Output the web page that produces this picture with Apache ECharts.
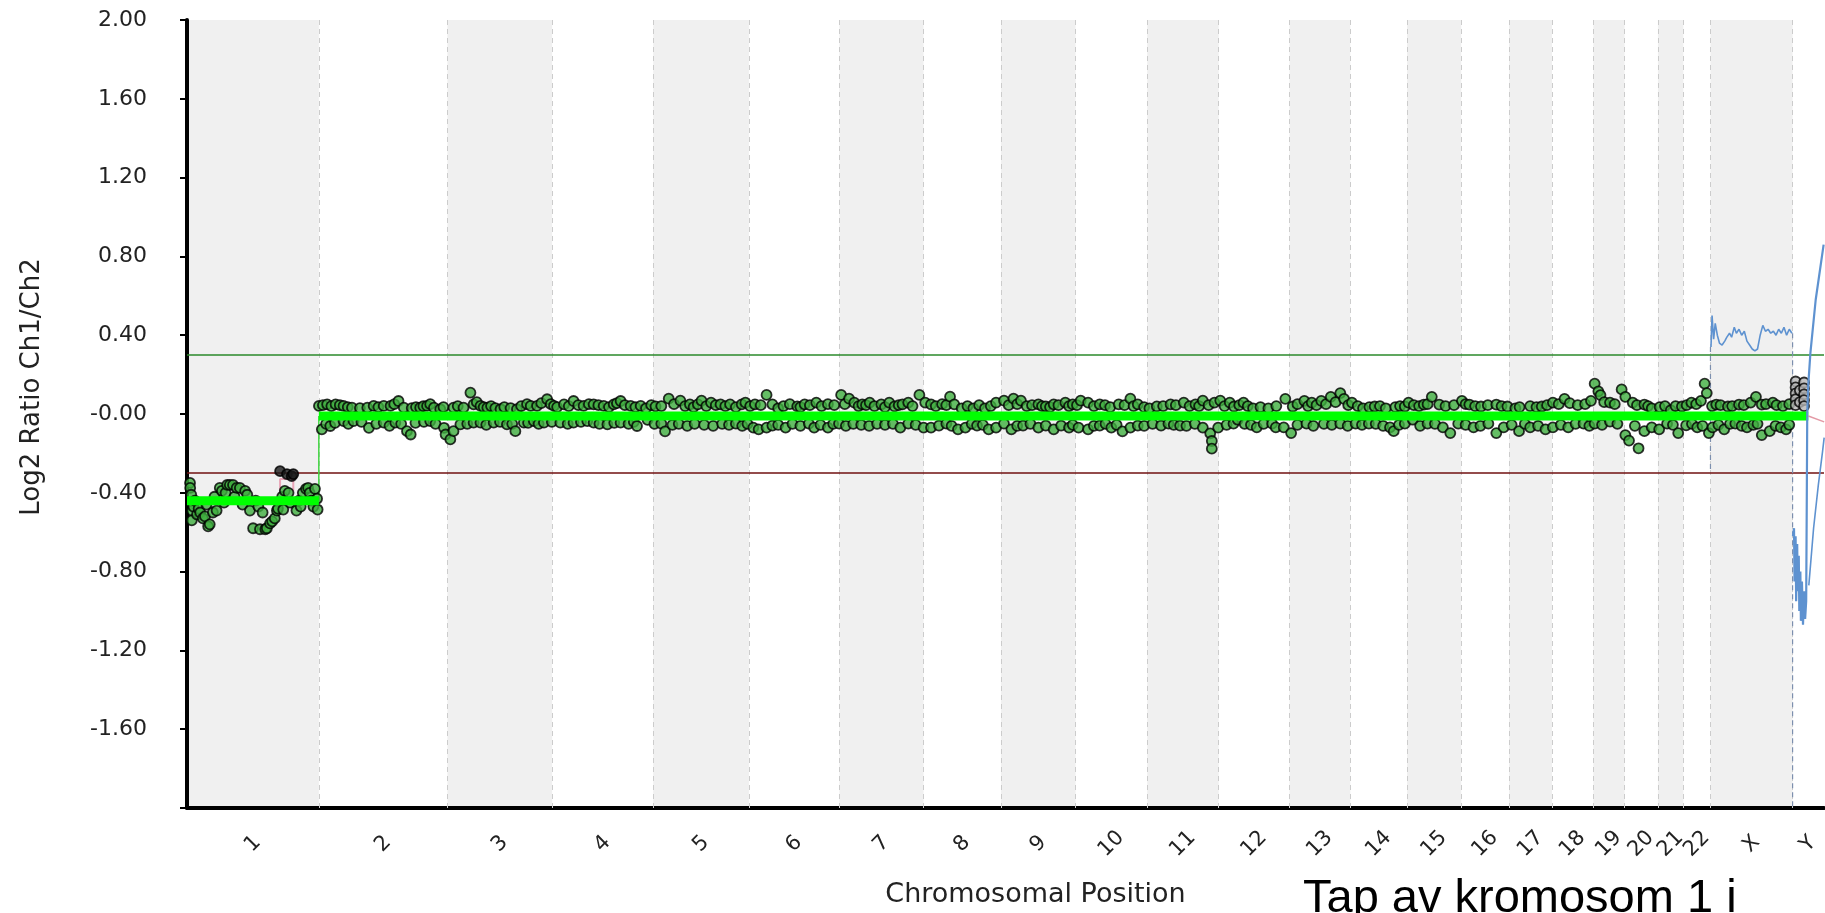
<!DOCTYPE html>
<html>
<head>
<meta charset="utf-8">
<title>Log2 Ratio Ch1/Ch2</title>
<script src="https://cdn.jsdelivr.net/npm/echarts@6/dist/echarts.min.js"></script>
<style>
  html, body { margin: 0; padding: 0; background: #fff; }
  #chart { width: 1825px; height: 913px; }
</style>
</head>
<body>
<div id="chart"></div>
<script>
// chromosome layout (Mb)
const chromNames = ['1', '2', '3', '4', '5', '6', '7', '8', '9', '10', '11', '12',
  '13', '14', '15', '16', '17', '18', '19', '20', '21', '22', 'X', 'Y'];
const chromLengths = [249.3, 243.2, 198.0, 191.2, 180.9, 171.1, 159.1, 146.4, 141.2, 135.5,
  135.0, 133.9, 115.2, 107.3, 102.5, 90.4, 81.2, 78.1, 59.1, 63.0, 48.1, 51.3, 155.3, 59.4];

const yTickValues = [-1.6, -1.2, -0.8, -0.4, 0, 0.4, 0.8, 1.2, 1.6, 2.0];
const yTickLabels = ['-1.60', '-1.20', '-0.80', '-0.40', '-0.00', '0.40', '0.80', '1.20', '1.60', '2.00'];

const gainThreshold = 0.3;
const lossThreshold = -0.3;

// segment means (genome position Mb)
const segStarts = [0, 249.3];
const segEnds = [249.3, 3066];
const segMeans = [-0.44, -0.01];
const segTail = [[3066, -0.01], [3096, -0.04]];

// probe log2 ratios [genome position Mb, value]
const greenProbes = [
  // chr1
  [5.7, -0.35], [6, -0.375], [8, -0.41], [9.5, -0.49], [9, -0.54], [12, -0.47], [15, -0.44], [19, -0.51],
  [22, -0.48], [25, -0.50], [30, -0.53], [34, -0.52], [37, -0.46], [40, -0.57], [43, -0.56], [49, -0.50],
  [52, -0.42], [56, -0.49], [62, -0.375], [66, -0.39], [70, -0.45], [73, -0.40], [76, -0.36], [81, -0.36],
  [87, -0.36], [90, -0.42], [94, -0.375], [100, -0.375], [105, -0.46], [110, -0.39], [114, -0.41],
  [119, -0.49], [125, -0.58], [130, -0.44], [135, -0.47], [138, -0.585], [143, -0.50], [148, -0.585],
  [151, -0.58], [157, -0.555], [161, -0.545], [166, -0.53], [170, -0.49], [172, -0.48], [180, -0.42],
  [182, -0.485], [185, -0.39], [192, -0.40], [195, -0.45], [207, -0.49], [212, -0.44], [215, -0.47],
  [219, -0.40], [225, -0.38], [229, -0.375], [232, -0.40], [235, -0.44], [239, -0.47], [242, -0.38],
  [246, -0.43], [247, -0.485],
  // chr2 - chr4
  [249.5, 0.041], [257, 0.045], [265, 0.049], [273, 0.04], [281, 0.049], [289, 0.045], [296, 0.041],
  [304, 0.035], [312, 0.032], [327, 0.03], [341, 0.032], [353, 0.041], [362, 0.035], [372, 0.041],
  [385, 0.041], [392, 0.05], [400, 0.066], [410, 0.032], [425, 0.03], [433, 0.035], [441, 0.032],
  [447, 0.04], [454, 0.041], [460, 0.05], [467, 0.032], [479, 0.024], [485, 0.035], [504, 0.032],
  [512, 0.04], [523, 0.032], [536, 0.108], [542, 0.049], [548, 0.06], [555, 0.041], [561, 0.035],
  [568, 0.032], [575, 0.04], [583, 0.03], [593, 0.024], [600, 0.035], [612, 0.03], [624, 0.024],
  [632, 0.04], [643, 0.05], [650, 0.041], [662, 0.041], [670, 0.055], [681, 0.075], [688, 0.05],
  [694, 0.041], [700, 0.035], [713, 0.049], [722, 0.04], [731, 0.066], [740, 0.045], [750, 0.041],
  [760, 0.05], [769, 0.049], [778, 0.045], [788, 0.041], [798, 0.035], [807, 0.049], [813, 0.055],
  [820, 0.066], [828, 0.045], [839, 0.041], [848, 0.035], [858, 0.041],
  [255, -0.078], [263, -0.05], [271, -0.061], [280, -0.045], [296, -0.036], [305, -0.05], [315, -0.036],
  [330, -0.04], [344, -0.070], [358, -0.05], [372, -0.044], [383, -0.06], [394, -0.044], [405, -0.05],
  [416, -0.087], [423, -0.104], [432, -0.045], [448, -0.04], [460, -0.036], [470, -0.05], [486, -0.070],
  [489, -0.104], [498, -0.129], [504, -0.087], [517, -0.053], [530, -0.05], [542, -0.044], [555, -0.044],
  [566, -0.055], [580, -0.044], [592, -0.04], [605, -0.053], [615, -0.05], [621, -0.087], [637, -0.044],
  [645, -0.045], [656, -0.036], [665, -0.05], [675, -0.044], [690, -0.04], [706, -0.044], [720, -0.05],
  [731, -0.044], [745, -0.04], [757, -0.036], [769, -0.044], [780, -0.05], [795, -0.053], [808, -0.045],
  [820, -0.044], [835, -0.05], [845, -0.04], [851, -0.061],
  // chr4 - chr12
  [868, 0.029], [878, 0.045], [886, 0.039], [897, 0.04], [911, 0.078], [921, 0.05], [933, 0.068],
  [942, 0.04], [951, 0.049], [958, 0.035], [966, 0.049], [973, 0.068], [982, 0.04], [991, 0.058],
  [1000, 0.045], [1009, 0.049], [1018, 0.04], [1027, 0.049], [1038, 0.035], [1049, 0.049], [1056, 0.058],
  [1065, 0.04], [1074, 0.049], [1085, 0.045], [1096, 0.097], [1107, 0.049], [1118, 0.029], [1128, 0.04],
  [1140, 0.05], [1154, 0.039], [1160, 0.035], [1168, 0.049], [1178, 0.045], [1190, 0.058], [1200, 0.04],
  [1212, 0.05], [1224, 0.045], [1237, 0.097], [1244, 0.05], [1252, 0.078], [1262, 0.058], [1270, 0.04],
  [1277, 0.049], [1284, 0.045], [1291, 0.058], [1300, 0.04], [1313, 0.049], [1320, 0.035], [1328, 0.058],
  [1338, 0.039], [1346, 0.045], [1353, 0.049], [1364, 0.058], [1372, 0.04], [1385, 0.097], [1396, 0.058],
  [1407, 0.049], [1416, 0.04], [1428, 0.05], [1436, 0.045], [1443, 0.088], [1451, 0.049], [1465, 0.029],
  [1476, 0.04], [1487, 0.029], [1498, 0.045], [1509, 0.029], [1520, 0.04], [1530, 0.058], [1545, 0.068],
  [1554, 0.045], [1563, 0.078], [1570, 0.05], [1577, 0.068], [1588, 0.04], [1598, 0.045], [1610, 0.049],
  [1617, 0.04], [1624, 0.039], [1632, 0.035], [1639, 0.049], [1648, 0.045], [1661, 0.058], [1668, 0.04],
  [1675, 0.049], [1683, 0.045], [1690, 0.068], [1704, 0.058], [1715, 0.04], [1726, 0.049], [1736, 0.045],
  [1746, 0.035], [1762, 0.049], [1773, 0.045], [1784, 0.078], [1790, 0.04], [1798, 0.049], [1810, 0.035],
  [1820, 0.029], [1834, 0.039], [1846, 0.04], [1860, 0.049], [1870, 0.045], [1885, 0.058], [1896, 0.04],
  [1907, 0.049], [1914, 0.04], [1921, 0.068], [1932, 0.045], [1943, 0.058], [1954, 0.068], [1962, 0.04],
  [1972, 0.058],
  [871, -0.030], [884, -0.05], [897, -0.049], [904, -0.088], [918, -0.055], [930, -0.05], [946, -0.06],
  [960, -0.05], [978, -0.055], [995, -0.06], [1012, -0.05], [1025, -0.055], [1038, -0.049], [1050, -0.06],
  [1060, -0.05], [1071, -0.069], [1081, -0.078], [1096, -0.069], [1107, -0.059], [1118, -0.055],
  [1132, -0.069], [1145, -0.05], [1160, -0.06], [1176, -0.049], [1186, -0.069], [1198, -0.055],
  [1212, -0.069], [1222, -0.05], [1233, -0.049], [1246, -0.06], [1260, -0.05], [1275, -0.055],
  [1290, -0.06], [1305, -0.05], [1320, -0.055], [1335, -0.05], [1349, -0.069], [1364, -0.049],
  [1378, -0.055], [1393, -0.069], [1407, -0.069], [1422, -0.059], [1436, -0.049], [1446, -0.06],
  [1458, -0.078], [1472, -0.069], [1484, -0.05], [1494, -0.059], [1505, -0.055], [1516, -0.078],
  [1530, -0.069], [1545, -0.049], [1559, -0.078], [1570, -0.06], [1581, -0.059], [1595, -0.05],
  [1610, -0.069], [1624, -0.059], [1639, -0.078], [1653, -0.059], [1668, -0.069], [1675, -0.055],
  [1686, -0.069], [1704, -0.078], [1715, -0.06], [1726, -0.059], [1737, -0.05], [1748, -0.069],
  [1758, -0.055], [1769, -0.088], [1784, -0.069], [1798, -0.059], [1810, -0.06], [1826, -0.05],
  [1842, -0.059], [1856, -0.049], [1866, -0.055], [1878, -0.059], [1890, -0.06], [1906, -0.05],
  [1921, -0.069], [1935, -0.098], [1938, -0.137], [1938, -0.176], [1950, -0.069], [1966, -0.055],
  [1979, -0.049],
  // chr12 - X
  [1980, 0.038], [1990, 0.045], [1998, 0.058], [2006, 0.04], [2016, 0.029], [2030, 0.035], [2045, 0.029],
  [2060, 0.04], [2077, 0.077], [2091, 0.038], [2100, 0.05], [2113, 0.067], [2120, 0.04], [2127, 0.058],
  [2136, 0.045], [2145, 0.067], [2154, 0.05], [2163, 0.087], [2172, 0.06], [2181, 0.106], [2188, 0.077],
  [2196, 0.045], [2203, 0.058], [2214, 0.04], [2224, 0.029], [2236, 0.035], [2246, 0.038], [2256, 0.04],
  [2267, 0.029], [2285, 0.035], [2294, 0.04], [2303, 0.038], [2310, 0.058], [2320, 0.045], [2330, 0.04],
  [2339, 0.048], [2346, 0.05], [2354, 0.087], [2368, 0.048], [2380, 0.04], [2396, 0.045], [2411, 0.067],
  [2418, 0.05], [2425, 0.048], [2436, 0.04], [2447, 0.038], [2460, 0.045], [2476, 0.048], [2486, 0.04],
  [2497, 0.038], [2512, 0.029], [2520, 0.035], [2540, 0.04], [2552, 0.035], [2562, 0.038], [2572, 0.045],
  [2583, 0.058], [2594, 0.05], [2605, 0.077], [2615, 0.055], [2630, 0.045], [2644, 0.05], [2655, 0.067],
  [2662, 0.154], [2669, 0.115], [2673, 0.096], [2680, 0.06], [2691, 0.058], [2700, 0.05], [2713, 0.125],
  [2720, 0.087], [2734, 0.058], [2742, 0.045], [2756, 0.048], [2763, 0.04], [2770, 0.029], [2785, 0.035],
  [2795, 0.04], [2806, 0.019], [2815, 0.04], [2827, 0.038], [2836, 0.045], [2845, 0.058], [2854, 0.05],
  [2863, 0.067], [2870, 0.154], [2874, 0.106], [2884, 0.04], [2892, 0.048], [2900, 0.045], [2914, 0.038],
  [2922, 0.04], [2935, 0.048], [2944, 0.045], [2957, 0.058], [2967, 0.087], [2978, 0.048], [2986, 0.05],
  [2999, 0.058], [3006, 0.045], [3018, 0.04], [3030, 0.05],
  [1987, -0.029], [2000, -0.05], [2012, -0.055], [2023, -0.068], [2036, -0.05], [2052, -0.049],
  [2059, -0.068], [2074, -0.068], [2088, -0.097], [2100, -0.055], [2117, -0.049], [2130, -0.06],
  [2150, -0.05], [2165, -0.055], [2181, -0.049], [2195, -0.06], [2210, -0.049], [2222, -0.055],
  [2235, -0.049], [2248, -0.05], [2262, -0.06], [2275, -0.068], [2282, -0.087], [2292, -0.055],
  [2303, -0.049], [2318, -0.029], [2332, -0.06], [2346, -0.049], [2360, -0.05], [2375, -0.068],
  [2389, -0.097], [2404, -0.049], [2418, -0.055], [2433, -0.068], [2446, -0.06], [2461, -0.049],
  [2476, -0.097], [2490, -0.068], [2505, -0.055], [2519, -0.087], [2530, -0.05], [2540, -0.068],
  [2555, -0.06], [2569, -0.078], [2583, -0.068], [2598, -0.055], [2612, -0.068], [2626, -0.05],
  [2641, -0.049], [2652, -0.06], [2662, -0.049], [2676, -0.055], [2691, -0.039], [2705, -0.05],
  [2720, -0.107], [2727, -0.135], [2738, -0.06], [2745, -0.174], [2756, -0.087], [2770, -0.068],
  [2784, -0.078], [2799, -0.049], [2810, -0.055], [2820, -0.097], [2835, -0.058], [2846, -0.05],
  [2856, -0.068], [2866, -0.06], [2878, -0.097], [2885, -0.068], [2896, -0.055], [2907, -0.078],
  [2918, -0.05], [2928, -0.049], [2940, -0.06], [2950, -0.068], [2962, -0.055], [2970, -0.05],
  [2978, -0.107], [2993, -0.087], [3004, -0.06], [3014, -0.068], [3024, -0.078], [3030, -0.055]
];
const darkProbes = [[176, -0.29], [189, -0.305], [198, -0.315], [201, -0.305]];
const greyProbes = [
  [3042, 0.165], [3042, 0.135], [3042, 0.105], [3042, 0.075], [3042, 0.045],
  [3050, 0.12], [3050, 0.06],
  [3058, 0.16], [3058, 0.13], [3058, 0.10], [3058, 0.07], [3058, 0.04]
];
const pinkTrace = [[176, -0.39], [176, -0.33], [201, -0.33], [201, -0.39]];

// moving average of X and Y
const blueX = [
  [2882, 0.34], [2884, 0.50], [2887, 0.38], [2890, 0.46], [2894, 0.40], [2898, 0.36], [2903, 0.35],
  [2908, 0.37], [2912, 0.39], [2917, 0.41], [2921, 0.39], [2926, 0.44], [2930, 0.41], [2935, 0.43],
  [2940, 0.40], [2945, 0.42], [2950, 0.37], [2955, 0.35], [2960, 0.33], [2965, 0.32], [2970, 0.33],
  [2975, 0.40], [2980, 0.45], [2985, 0.42], [2990, 0.43], [2995, 0.41], [3000, 0.42], [3005, 0.40],
  [3010, 0.43], [3015, 0.41], [3020, 0.44], [3025, 0.40], [3030, 0.43], [3035, 0.41]
];
const blueY = [
  [3037, -0.62], [3039, -0.58], [3040, -0.85], [3042, -0.62], [3043, -0.95], [3045, -0.66],
  [3046, -0.90], [3048, -0.72], [3049, -1.00], [3051, -0.80], [3052, -1.05], [3054, -0.85],
  [3056, -1.07], [3058, -0.90], [3060, -1.04], [3062, -0.95], [3063, -0.50], [3064, 0.0],
  [3066, 0.15], [3070, 0.31], [3080, 0.58], [3095, 0.86]
];
const blueY2 = [[3067, -0.87], [3076, -0.58], [3085, -0.36], [3093, -0.19], [3096, -0.12]];
const blueDrops = [
  [[2881, 0.34], [2881, -0.30]],
  [[3036.3, 0.41], [3036.3, -2.0]]
];

const chromStarts = [];
chromLengths.reduce((acc, len) => {
  chromStarts.push(acc);
  return acc + len;
}, 0);
const genomeEnd = chromStarts[chromStarts.length - 1] + chromLengths[chromLengths.length - 1];
const chromMids = chromStarts.map((s, i) => s + chromLengths[i] / 2);

// grey bands on odd chromosomes
const bandData = chromStarts
  .map((s, i) => [{ xAxis: s }, { xAxis: s + chromLengths[i] }])
  .filter((d, i) => i % 2 === 0);
const boundaryData = chromStarts.slice(1).map(s => ({ xAxis: s }));

const segmentSeries = segMeans.map((m, i) => ({
  type: 'line',
  data: [[segStarts[i], m], [segEnds[i], m]],
  symbol: 'none',
  silent: true,
  z: 4,
  lineStyle: { color: '#00ff00', width: 9 },
}));

const dropSeries = blueDrops.map(d => ({
  type: 'line',
  data: d,
  symbol: 'none',
  silent: true,
  z: 3,
  lineStyle: { color: '#7c8fae', width: 1.2, type: [5, 4] },
}));

const probeStyle = { borderColor: '#000', borderWidth: 1.8 };

const option = {
  animation: false,
  backgroundColor: '#fff',
  grid: {
    left: 187,
    right: 1,
    top: 20,
    bottom: 105,
    outerBoundsMode: 'none',
  },
  xAxis: {
    type: 'value',
    min: 0,
    max: genomeEnd,
    name: 'Chromosomal Position',
    nameLocation: 'middle',
    nameGap: 73,
    nameTextStyle: {
      fontFamily: 'DejaVu Sans',
      fontSize: 27,
      color: '#222',
      padding: [0, 0, 0, 60],
    },
    axisLine: { onZero: false, lineStyle: { color: '#000', width: 4 } },
    axisTick: { show: false },
    splitLine: { show: false },
    axisLabel: {
      customValues: chromMids,
      rotate: 45,
      align: 'center',
      verticalAlign: 'middle',
      margin: 36,
      fontFamily: 'DejaVu Sans',
      fontSize: 21,
      color: '#222',
      formatter: v => {
        const idx = chromMids.findIndex(m => Math.abs(m - v) < 1e-6);
        return idx >= 0 ? chromNames[idx] : '';
      },
    },
  },
  yAxis: {
    type: 'value',
    min: -2,
    max: 2,
    interval: 0.4,
    name: 'Log2 Ratio Ch1/Ch2',
    nameLocation: 'middle',
    nameRotate: 90,
    nameGap: 142,
    nameTextStyle: {
      fontFamily: 'DejaVu Sans',
      fontSize: 26,
      color: '#222',
      padding: [0, 0, 0, 54],
    },
    axisLine: { onZero: false, lineStyle: { color: '#000', width: 4 } },
    axisTick: { show: true, length: 7, lineStyle: { color: '#000', width: 2 } },
    splitLine: { show: false },
    axisLabel: {
      margin: 40,
      fontFamily: 'DejaVu Sans',
      fontSize: 22,
      color: '#222',
      formatter: v => {
        const idx = yTickValues.findIndex(t => Math.abs(t - v) < 1e-6);
        return idx >= 0 ? yTickLabels[idx] : '';
      },
    },
  },
  series: [
    {
      // step between the two segments, plus background bands and boundaries
      type: 'line',
      data: [[segEnds[0], segMeans[0]], [segStarts[1], segMeans[1]]],
      symbol: 'none',
      silent: true,
      z: 3,
      lineStyle: { color: '#3fd43f', width: 1.5 },
      markArea: {
        silent: true,
        z: 0,
        itemStyle: { color: '#f0f0f0' },
        data: bandData,
      },
      markLine: {
        silent: true,
        z: 1,
        symbol: ['none', 'none'],
        label: { show: false },
        lineStyle: { color: '#cccccc', width: 1, type: [5, 4] },
        data: boundaryData,
      },
    },
    {
      type: 'line',
      data: [],
      silent: true,
      markLine: {
        silent: true,
        z: 1,
        symbol: ['none', 'none'],
        label: { show: false },
        data: [
          { yAxis: gainThreshold, lineStyle: { color: '#2b8a2b', width: 1.6, type: 'solid' } },
          { yAxis: lossThreshold, lineStyle: { color: '#701010', width: 1.6, type: 'solid' } },
        ],
      },
    },
    {
      type: 'line',
      data: pinkTrace,
      symbol: 'none',
      silent: true,
      z: 2,
      lineStyle: { color: '#e9a6b8', width: 2 },
    },
    {
      type: 'scatter',
      data: greenProbes,
      symbol: 'circle',
      symbolSize: 10,
      silent: true,
      z: 3,
      itemStyle: { color: '#3fae3f', ...probeStyle },
    },
    {
      type: 'scatter',
      data: darkProbes,
      symbol: 'circle',
      symbolSize: 10,
      silent: true,
      z: 3,
      itemStyle: { color: '#1a1a1a', ...probeStyle },
    },
    {
      type: 'scatter',
      data: greyProbes,
      symbol: 'circle',
      symbolSize: 10,
      silent: true,
      z: 3,
      itemStyle: { color: '#b5b5b5', ...probeStyle },
    },
    ...segmentSeries,
    {
      type: 'line',
      data: segTail,
      symbol: 'none',
      silent: true,
      z: 4,
      lineStyle: { color: '#e39aa6', width: 1.5 },
    },
    ...dropSeries,
    {
      type: 'line',
      data: blueX,
      symbol: 'none',
      silent: true,
      z: 5,
      lineStyle: { color: '#5e92d0', width: 1.6 },
    },
    {
      type: 'line',
      data: blueY,
      symbol: 'none',
      silent: true,
      z: 5,
      lineStyle: { color: '#5e92d0', width: 2.2 },
    },
    {
      type: 'line',
      data: blueY2,
      symbol: 'none',
      silent: true,
      z: 5,
      lineStyle: { color: '#5e92d0', width: 1.6 },
    },
  ],
  graphic: [
    {
      type: 'text',
      left: 1303,
      top: 876,
      silent: true,
      style: {
        text: 'Tap av kromosom 1 i',
        font: '47px "Liberation Sans", Arial, sans-serif',
        fill: '#000',
      },
    },
  ],
};

const myChart = echarts.init(document.getElementById('chart'));
myChart.setOption(option);
</script>
</body>
</html>
